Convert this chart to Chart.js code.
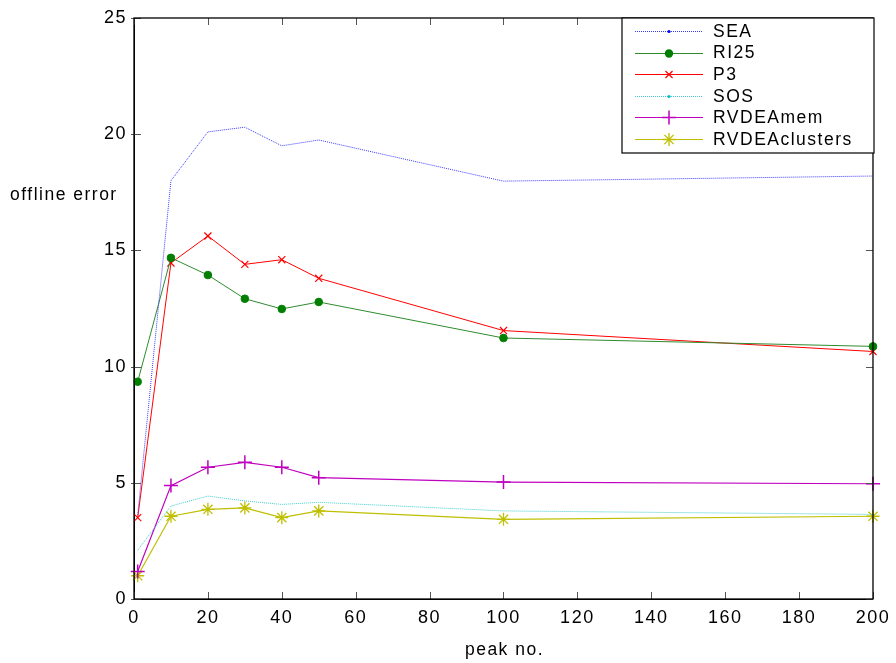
<!DOCTYPE html>
<html>
<head>
<meta charset="utf-8">
<script src="https://cdn.jsdelivr.net/npm/chart.js@4/dist/chart.umd.min.js"></script>
<style>
html,body{margin:0;padding:0;background:#fff;}
#wrap{width:896px;height:663px;position:relative;}
</style>
</head>
<body>
<div id="wrap"><canvas id="c" width="896" height="663"></canvas></div>
<script>
const peaks = [1, 10, 20, 30, 40, 50, 100, 200];
const seriesNames = ["SEA", "RI25", "P3", "SOS", "RVDEAmem", "RVDEAclusters"];
const SEA = [3.6, 18.0, 20.1, 20.3, 19.5, 19.75, 17.98, 18.2];
const RI25 = [9.35, 14.68, 13.94, 12.92, 12.48, 12.78, 11.23, 10.87];
const P3 = [3.5, 14.46, 15.62, 14.4, 14.6, 13.8, 11.55, 10.65];
const SOS = [2.1, 4.0, 4.43, 4.22, 4.07, 4.16, 3.79, 3.64];
const RVDEAmem = [1.18, 4.88, 5.67, 5.88, 5.67, 5.22, 5.03, 4.96];
const RVDEAclusters = [1.0, 3.56, 3.86, 3.92, 3.5, 3.79, 3.43, 3.56];
const xTicks = [0, 20, 40, 60, 80, 100, 120, 140, 160, 180, 200];
const yTicks = [0, 5, 10, 15, 20, 25];
const xTitle = "peak no.";
const yTitle = "offline error";

const FONT = '"Liberation Sans", Arial, Helvetica, sans-serif';
const LS = '1.5px';

function pts(vals){ return peaks.map((p,i)=>({x:p,y:vals[i]})); }

const styles = [
  {color:'#0000ff', line:'#3a3aff', style:'circle', r:0, lr:1.6, dash:[1,1], bw:1, mw:1},
  {color:'#007f00', line:'#2e8b2e', style:'circle', r:3.8, lr:4.2, dash:[], bw:1, mw:1},
  {color:'#ff0000', line:'#ff0000', style:'crossRot', r:5, lr:5, dash:[], bw:1, mw:1.2},
  {color:'#00bfbf', line:'#40cccc', style:'circle', r:0, lr:1.6, dash:[1,1], bw:1, mw:1},
  {color:'#bf00bf', line:'#bf00bf', style:'cross', r:7, lr:7, dash:[], bw:1.2, mw:1.5},
  {color:'#bfbf00', line:'#bfbf00', style:'star', r:6.5, lr:6.5, dash:[], bw:1.2, mw:1.3}
];
const allVals = [SEA, RI25, P3, SOS, RVDEAmem, RVDEAclusters];

const datasets = allVals.map((v,i)=>({
  label: seriesNames[i],
  data: pts(v),
  borderColor: styles[i].line,
  backgroundColor: styles[i].color,
  pointBorderColor: styles[i].color,
  pointBackgroundColor: styles[i].color,
  pointStyle: styles[i].style,
  pointRadius: styles[i].r,
  pointHoverRadius: styles[i].r,
  pointBorderWidth: styles[i].mw,
  borderWidth: styles[i].bw,
  borderDash: styles[i].dash,
  tension: 0,
  fill: false,
  clip: false
}));

function drawMarker(ctx, style, x, y, r, color, w){
  ctx.save();
  ctx.strokeStyle = color; ctx.fillStyle = color; ctx.lineWidth = w; ctx.setLineDash([]);
  ctx.beginPath();
  if(style==='circle'){ ctx.arc(x,y,r,0,Math.PI*2); ctx.fill(); }
  else if(style==='crossRot'){ const d=r*0.707; ctx.moveTo(x-d,y-d); ctx.lineTo(x+d,y+d); ctx.moveTo(x+d,y-d); ctx.lineTo(x-d,y+d); ctx.stroke(); }
  else if(style==='cross'){ ctx.moveTo(x-r,y); ctx.lineTo(x+r,y); ctx.moveTo(x,y-r); ctx.lineTo(x,y+r); ctx.stroke(); }
  else if(style==='star'){ ctx.moveTo(x-r,y); ctx.lineTo(x+r,y); ctx.moveTo(x,y-r); ctx.lineTo(x,y+r);
    const d=r*0.707; ctx.moveTo(x-d,y-d); ctx.lineTo(x+d,y+d); ctx.moveTo(x+d,y-d); ctx.lineTo(x-d,y+d); ctx.stroke(); }
  ctx.restore();
}

const framePlugin = {
  id:'frame',
  beforeDraw(chart){
    try { chart.ctx.letterSpacing = LS; } catch(e) {}
  },
  afterDraw(chart){
    const ctx = chart.ctx, a = chart.chartArea;
    const xs = chart.scales.x, ys = chart.scales.y;
    ctx.save();
    try { ctx.letterSpacing = LS; } catch(e) {}
    ctx.strokeStyle = '#555'; ctx.lineWidth = 1;
    xTicks.forEach(t=>{
      const px = Math.round(xs.getPixelForValue(t))+0.5;
      ctx.beginPath(); ctx.moveTo(px,a.bottom); ctx.lineTo(px,a.bottom-7);
      ctx.moveTo(px,a.top); ctx.lineTo(px,a.top+7); ctx.stroke();
    });
    yTicks.forEach(t=>{
      const py = Math.round(ys.getPixelForValue(t))+0.5;
      ctx.beginPath(); ctx.moveTo(a.left-3,py); ctx.lineTo(a.left+7,py);
      ctx.moveTo(a.right,py); ctx.lineTo(a.right-7,py); ctx.stroke();
    });
    ctx.strokeStyle = '#000'; ctx.lineWidth = 1.3;
    ctx.strokeRect(a.left, a.top, a.right-a.left, a.bottom-a.top);
    ctx.fillStyle = '#000';
    ctx.font = '17.5px ' + FONT;
    ctx.textAlign = 'left'; ctx.textBaseline = 'middle';
    ctx.fillText(yTitle, 10, 195);
    ctx.textAlign = 'center';
    ctx.fillText(xTitle, (a.left+a.right)/2 + 1, 650);
    const lx = 622, ly = 18, lw = 874-622, lh = 153-18;
    ctx.fillStyle = '#fff';
    ctx.fillRect(lx, ly, lw, lh);
    ctx.strokeStyle = '#000'; ctx.lineWidth = 1.2;
    ctx.strokeRect(lx, ly, lw, lh);
    chart.data.datasets.forEach((ds,i)=>{
      const y = 31 + i*21.6;
      const st = styles[i];
      ctx.save();
      ctx.strokeStyle = ds.borderColor; ctx.lineWidth = ds.borderWidth;
      ctx.setLineDash(ds.borderDash || []);
      ctx.beginPath(); ctx.moveTo(635, Math.round(y)+0.5); ctx.lineTo(703, Math.round(y)+0.5); ctx.stroke();
      ctx.restore();
      drawMarker(ctx, ds.pointStyle, 669, Math.round(y)+0.5, st.lr, ds.pointBorderColor, st.mw);
      ctx.fillStyle = '#000';
      ctx.font = '17.5px ' + FONT;
      ctx.textAlign = 'left'; ctx.textBaseline = 'middle';
      ctx.fillText(ds.label, 713, y+1);
    });
    ctx.restore();
  }
};

const cv = document.getElementById('c');
try { cv.getContext('2d').letterSpacing = LS; } catch(e) {}

new Chart(cv, {
  type: 'line',
  data: { datasets },
  options: {
    responsive: false,
    animation: false,
    devicePixelRatio: 1,
    layout: { padding: { top: 18, right: 22, left: 0, bottom: 0 } },
    plugins: { legend: { display: false }, tooltip: { enabled: false } },
    elements: { line: { borderJoinStyle: 'miter' } },
    scales: {
      x: {
        type: 'linear', min: 0, max: 200,
        afterBuildTicks(scale){ scale.ticks = xTicks.map(v=>({value:v})); },
        afterFit(scale){ scale.height = 64; },
        grid: { display: false, drawTicks: false },
        border: { display: true, color: '#000', width: 1 },
        ticks: { color: '#000', font: { family: FONT, size: 18 }, padding: 8, maxRotation: 0, autoSkip: false }
      },
      y: {
        type: 'linear', min: 0, max: 25,
        afterBuildTicks(scale){ scale.ticks = yTicks.map(v=>({value:v})); },
        afterFit(scale){ scale.width = 134; },
        grid: { display: false, drawTicks: false },
        border: { display: true, color: '#000', width: 1 },
        ticks: { color: '#000', font: { family: FONT, size: 18 }, padding: 7 }
      }
    }
  },
  plugins: [framePlugin]
});
</script>
</body>
</html>
